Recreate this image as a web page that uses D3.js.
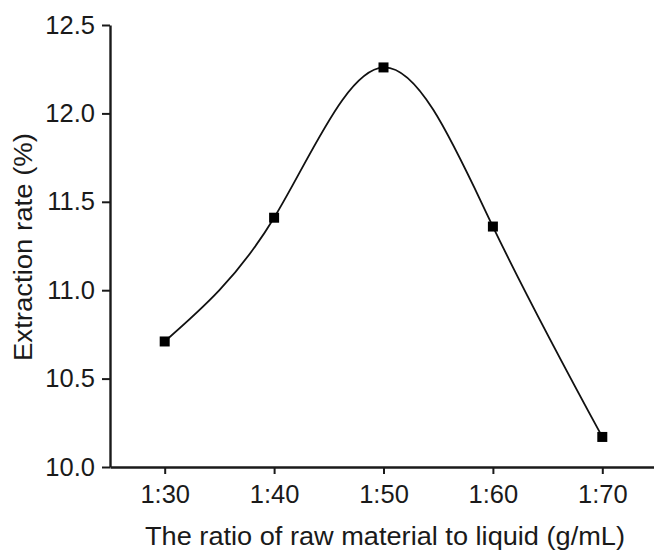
<!DOCTYPE html>
<html>
<head>
<meta charset="utf-8">
<script src="https://cdn.jsdelivr.net/npm/d3@7"></script>
<style>
  body { margin: 0; background: #fff; }
  text { font-family: "Liberation Sans", Arial, sans-serif; fill: #1a1a1a; }
</style>
</head>
<body>
<div id="chart"></div>
<script>
// ratio of raw material to liquid vs extraction rate
const ratios = ["1:30", "1:40", "1:50", "1:60", "1:70"];
const rates = [10.71, 11.41, 12.26, 11.36, 10.17];
const yTicks = [10.0, 10.5, 11.0, 11.5, 12.0, 12.5];

const width = 654, height = 551;
const margin = { top: 25, right: -3, bottom: 84, left: 110 };

const svg = d3.select("#chart")
  .append("svg")
  .attr("width", width)
  .attr("height", height);

const x = d3.scalePoint()
  .domain(ratios)
  .range([margin.left, width - margin.right])
  .padding(0.5);

const y = d3.scaleLinear()
  .domain([10, 12.5])
  .range([height - margin.bottom, margin.top]);

// axes
const xAxis = svg.append("g")
  .attr("transform", `translate(0, ${height - margin.bottom})`)
  .call(d3.axisBottom(x).tickSize(7).tickSizeOuter(0).tickPadding(11));

const yAxis = svg.append("g")
  .attr("transform", `translate(${margin.left}, 0)`)
  .call(d3.axisLeft(y).tickValues(yTicks).tickFormat(d3.format(".1f")).tickSize(8).tickSizeOuter(0).tickPadding(7));

[xAxis, yAxis].forEach(a => {
  a.select(".domain").attr("stroke", "#1a1a1a").attr("stroke-width", 2.4);
  a.selectAll(".tick line").attr("stroke", "#1a1a1a").attr("stroke-width", 2);
  a.selectAll(".tick text")
    .style("font-family", "'Liberation Sans', Arial, sans-serif")
    .style("font-size", "25.5px")
    .attr("fill", "#1a1a1a");
});

// curve
const line = d3.line()
  .x((d, i) => x(ratios[i]))
  .y(d => y(d))
  .curve(d3.curveNatural);

svg.append("path")
  .datum(rates)
  .attr("d", line)
  .attr("fill", "none")
  .attr("stroke", "#111")
  .attr("stroke-width", 1.8);

const sq = 10;
svg.selectAll("rect.pt")
  .data(rates)
  .enter()
  .append("rect")
  .attr("class", "pt")
  .attr("x", (d, i) => x(ratios[i]) - sq / 2)
  .attr("y", d => y(d) - sq / 2)
  .attr("width", sq)
  .attr("height", sq)
  .attr("fill", "#000");

// titles
svg.append("text")
  .attr("x", 385)
  .attr("y", 545)
  .attr("text-anchor", "middle")
  .attr("textLength", 480)
  .attr("lengthAdjust", "spacingAndGlyphs")
  .style("font-size", "25px")
  .text("The ratio of raw material to liquid (g/mL)");

svg.append("text")
  .attr("transform", `translate(32, 247) rotate(-90)`)
  .attr("text-anchor", "middle")
  .attr("textLength", 228)
  .attr("lengthAdjust", "spacingAndGlyphs")
  .style("font-size", "26px")
  .text("Extraction rate (%)");
</script>
</body>
</html>
